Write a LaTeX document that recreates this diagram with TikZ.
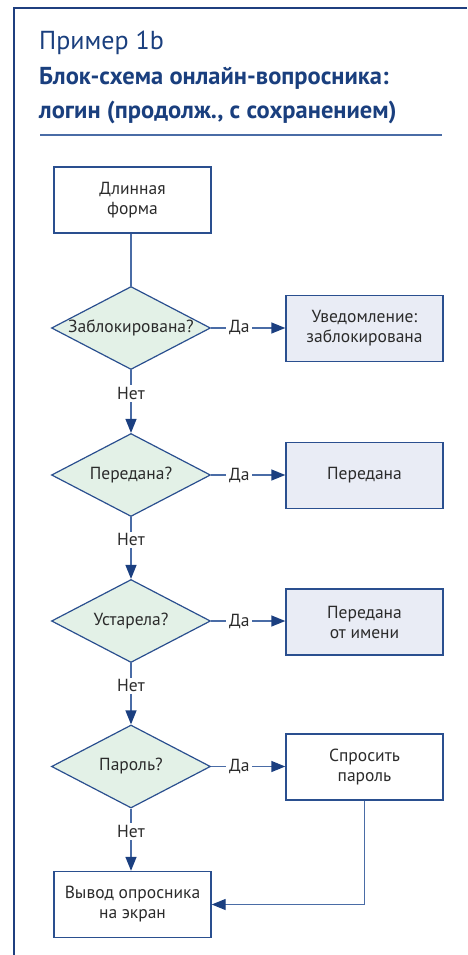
\documentclass[tikz,border=0pt]{standalone}
\usepackage{fontspec}
\setmainfont{PT Sans}
\usetikzlibrary{shapes.geometric,arrows.meta}
\definecolor{frameblue}{HTML}{1F3F7F}
\definecolor{titleblue}{HTML}{1A3F7E}
\definecolor{boxblue}{HTML}{2A4F8F}
\definecolor{lineblue}{HTML}{4A6CA6}
\definecolor{tipblue}{HTML}{1B3F80}
\definecolor{dfill}{HTML}{E3F1E7}
\definecolor{bfill}{HTML}{E9ECF5}
\definecolor{txt}{HTML}{2B2B2B}
\begin{document}
\begin{tikzpicture}[x=1pt,y=-1pt,
  every node/.style={text=txt},
  procbox/.style={draw=boxblue,line width=1.4pt,minimum width=157pt,minimum height=66pt,inner sep=0pt,align=center,font=\fontsize{17.5}{20}\selectfont},
  decbox/.style={draw=boxblue,line width=1.2pt,fill=dfill,diamond,minimum width=159pt,minimum height=83pt,inner sep=0pt,font=\fontsize{17.5}{20}\selectfont},
  conn/.style={draw=lineblue,line width=1.4pt},
  arr/.style={conn,-{Triangle[length=14pt,width=11pt,color=tipblue]}},
  lbl/.style={fill=white,inner xsep=3pt,inner ysep=2pt,font=\fontsize{17.5}{20}\selectfont}
]
\useasboundingbox (0,0) rectangle (467,955);
% frame
\draw[frameblue,line width=1.6pt] (14,955) -- (14,8) -- (467,8);
\draw[lineblue,line width=1.1pt] (40,135) -- (442,135);
% title
\node[anchor=base west,inner sep=0pt,text=titleblue,font=\fontsize{26}{30}\selectfont] (t1) at (39,50) {Пример 1b};
\node[anchor=base west,inner sep=0pt,text=titleblue,font=\fontsize{24.5}{30}\selectfont\bfseries] (t2) at (39,85) {Блок-схема онлайн-вопросника:};
\node[anchor=base west,inner sep=0pt,text=titleblue,font=\fontsize{24.5}{30}\selectfont\bfseries] (t3) at (39,118) {логин (продолж., с сохранением)};
% nodes
\node[procbox] (form) at (132.5,200) {Длинная\\форма};
\node[decbox] (d1) at (131,328) {\makebox[0pt]{Заблокирована?}};
\node[procbox,fill=bfill] (n1) at (364.5,328.5) {Уведомление:\\заблокирована};
\node[decbox] (d2) at (131,475) {\makebox[0pt]{Передана?}};
\node[procbox,fill=bfill] (n2) at (364.5,475.5) {Передана};
\node[decbox] (d3) at (131,621) {\makebox[0pt]{Устарела?}};
\node[procbox,fill=bfill] (n3) at (364.5,622) {Передана\\от имени};
\node[decbox] (d4) at (131,766.5) {\makebox[0pt]{Пароль?}};
\node[procbox,fill=white] (n4) at (364.5,767) {Спросить\\пароль};
\node[procbox] (out) at (132.5,904.5) {Вывод опросника\\на экран};
% connectors
\draw[conn] (form.south -| d1.north) -- (d1.north);
\draw[arr] (d1.south) -- node[lbl,pos=0.37] (no1) {Нет} (d2.north);
\draw[arr] (d2.south) -- node[lbl,pos=0.37] (no2) {Нет} (d3.north);
\draw[arr] (d3.south) -- node[lbl,pos=0.37] (no3) {Нет} (d4.north);
\draw[arr] (d4.south) -- node[lbl,pos=0.37] (no4) {Нет} (out.north -| d4.south);
\draw[arr] (d1.east) -- node[lbl,pos=0.38] (y1) {Да} (n1.west |- d1.east);
\draw[arr] (d2.east) -- node[lbl,pos=0.38] (y2) {Да} (n2.west |- d2.east);
\draw[arr] (d3.east) -- node[lbl,pos=0.38] (y3) {Да} (n3.west |- d3.east);
\draw[arr] (d4.east) -- node[lbl,pos=0.38] (y4) {Да} (n4.west |- d4.east);
\draw[arr] (n4.south) |- (out.east);
\end{tikzpicture}
\end{document}
